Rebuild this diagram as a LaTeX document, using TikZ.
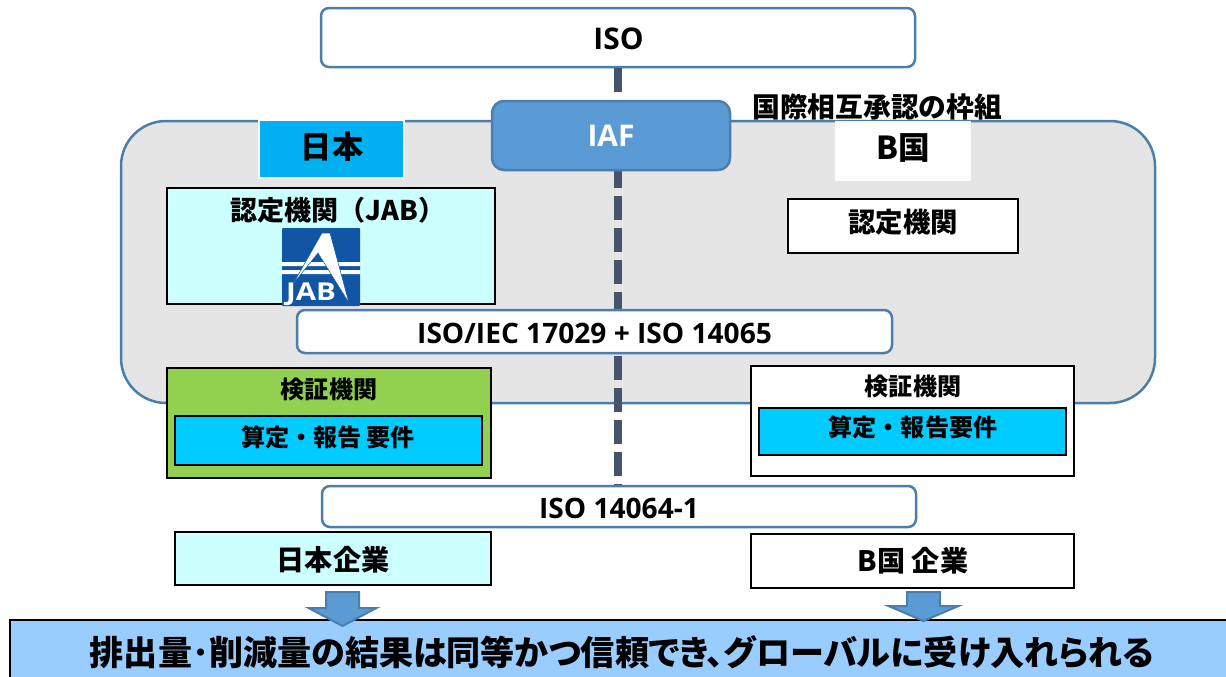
\documentclass[tikz,border=0pt]{standalone}
\usepackage{fontspec}
\setmainfont{Noto Sans CJK JP}
\newfontfamily\paltfont{Noto Sans CJK JP}[RawFeature=+palt]
\newfontfamily\latfont{Open Sans}
\usetikzlibrary{positioning}
\definecolor{linkblue}{HTML}{4A7EAC}
\definecolor{iafblue}{HTML}{5B9BD5}
\definecolor{skyblue}{HTML}{00B0F0}
\definecolor{reqblue}{HTML}{00CCFF}
\definecolor{paleblue}{HTML}{CCFFFF}
\definecolor{barblue}{HTML}{99CCFF}
\definecolor{leafgreen}{HTML}{92D050}
\definecolor{slateline}{HTML}{44546A}
\definecolor{logoblue}{HTML}{1155A5}
\def\px{0.02cm}
\tikzset{
  roundbox/.style={draw=linkblue,line width=2.5*\px,rounded corners=8*\px,fill=white,inner sep=0pt},
  orgbox/.style={draw=black,line width=2*\px,inner sep=0pt},
  fs/.style={font=\bfseries\fontsize{#1}{#1}\selectfont},
  lat/.style={font=\latfont\bfseries\fontsize{#1}{#1}\selectfont},
  size/.style 2 args={minimum width=#1*\px,minimum height=#2*\px}
}
\begin{document}
\begin{tikzpicture}[x=0.02cm,y=-0.02cm,line cap=butt,line join=miter]
  \path[use as bounding box,clip] (0,0) rectangle (1226,676);

  \node[roundbox,fill=black!10,rounded corners=45*\px,size={1034}{282}] (frame) at (638,262) {};
  \node[roundbox,size={594}{59}] (iso) at (618,37.5) {};
  \node[lat=17] (isotext) at (618.5,39) {ISO};
  \node[roundbox,size={594}{41}] (iso64) at (619,506.5) {};
  \draw[slateline,line width=8*\px,dash pattern=on 24*\px off 8*\px] (iso.south) -- (iso.south |- iso64.north);

  \node[roundbox,fill=iafblue,rounded corners=12*\px,size={238}{69},text=white,lat=17] (iaf) at (611,135.5) {IAF};
  \node[fs=15.8,anchor=west,inner sep=0pt] (mra) at (752,107) {国際相互承認の枠組};

  % left side
  \node[draw=white,fill=skyblue,line width=2*\px,size={145}{58}] (jp) at (331.5,149) {};
  \node[fs=17.8] (jptext) at (332,147) {日本};
  \node[orgbox,fill=paleblue,size={328}{116}] (jab) at (331,246) {};
  \node[fs=15.4] (jabtext) at (338,210.5) {認定機関（JAB）};
  \node[fill=logoblue,rounded corners=1*\px,size={78}{78},inner sep=0pt] (logo) at (321,267) {};
  \fill[white] (logo.west |- 0,262) rectangle (logo.east |- 0,266)
    (logo.west |- 0,270) rectangle (logo.east |- 0,274);
  \fill[white,draw=logoblue,line width=0.5*\px] (322,233) -- (330,233) -- (349,303) -- (318,253) -- (293,284) -- cycle;
  \node[text=white,lat=14,inner sep=0pt,xscale=1.2] (jablogo) at (311,294) {JAB};

  % right side
  \node[fill=white,size={136}{60}] (bkoku) at (903,151) {};
  \node[fs=18] (bkokutext) at (903.5,148) {B国};
  \node[orgbox,fill=white,size={230}{54}] (ab) at (903,226) {};
  \node[fs=15.6] (abtext) at (903,222) {認定機関};

  \node[roundbox,size={595}{43}] (iec) at (594.5,331.5) {};
  \node[lat=16] (iectext) at (594.5,333) {ISO/IEC 17029 + ISO 14065};

  % verifiers
  \node[orgbox,fill=leafgreen,size={324}{110}] (vbjp) at (329,423) {};
  \node[fs=13.7] (vbjptext) at (329,389.5) {検証機関};
  \node[orgbox,fill=reqblue,size={307}{49}] (reqjp) at (328.5,440.5) {};
  \node[fs=13.7] (reqjptext) at (328,437.5) {算定・報告 要件};
  \node[orgbox,fill=white,size={323}{110}] (vbb) at (912.5,421) {};
  \node[fs=13.7] (vbbtext) at (913,386.5) {検証機関};
  \node[orgbox,fill=reqblue,size={307}{47}] (reqb) at (912.5,431.5) {};
  \node[fs=13.7] (reqbtext) at (913,427.5) {算定・報告要件};

  \node[lat=16] (iso64text) at (619,508) {ISO 14064-1};

  % companies
  \node[orgbox,fill=paleblue,size={316}{53}] (cojp) at (333,558.5) {};
  \node[fs=16] (cojptext) at (333,560) {日本企業};
  \node[orgbox,fill=white,size={323}{54}] (cob) at (912.5,561) {};
  \node[fs=16] (cobtext) at (913,561) {B国 企業};

  \node[draw=black,line width=2*\px,fill=barblue,size={1224}{64},inner sep=0pt] (result) at (622,652) {};
  \node[font=\paltfont\bfseries\fontsize{19.4}{19.4}\selectfont] (resulttext) at (622,652)
    {排出量･削減量の結果は同等かつ信頼でき、グローバルに受け入れられる};

  \foreach \x/\hw/\base/\tip in {342.5/34/608/626,923.5/35/606/621}
    \draw[linkblue,fill=iafblue,line width=2*\px] (\x-16.5,592) -- (\x+16.5,592) -- (\x+16.5,\base)
      -- (\x+\hw,\base) -- (\x,\tip) -- (\x-\hw,\base) -- (\x-16.5,\base) -- cycle;
\end{tikzpicture}
\end{document}
